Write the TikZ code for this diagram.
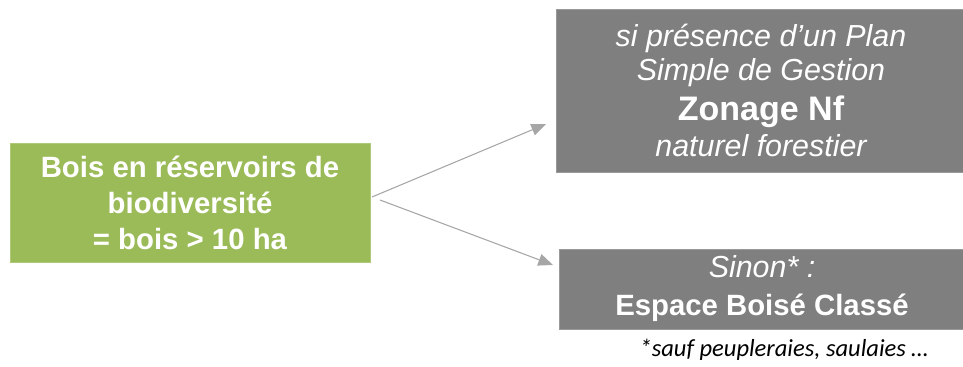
\documentclass[tikz,border=0pt]{standalone}
\usepackage{fontspec}
\setmainfont{Liberation Sans}
\newfontfamily\footfont{Carlito}
\usetikzlibrary{arrows.meta}
\definecolor{boxgreen}{HTML}{9BBB59}
\definecolor{boxgray}{HTML}{7F7F7F}
\definecolor{arrowgray}{HTML}{A6A6A6}
\newcommand{\itl}{\fontsize{22.8}{25.5}\selectfont\itshape}
\newcommand{\bfl}{\fontsize{22}{25.5}\selectfont\bfseries}
\newcommand{\bigbf}{\fontsize{25.5}{25.5}\selectfont\bfseries}
\tikzset{
  greenbox/.style={fill=boxgreen, draw=boxgreen!80!white, text=white, font=\fontsize{22}{27}\selectfont\bfseries, align=center, inner sep=0pt},
  graybox/.style={fill=boxgray, draw=boxgray!80!white, text=white, align=center, inner sep=0pt, font=\fontsize{22.8}{25.5}\selectfont},
  conn/.style={draw=arrowgray, line width=0.8pt, -{Triangle[length=11pt,width=9pt]}},
}
\begin{document}
\begin{tikzpicture}[x=0.75pt,y=-0.75pt]
\useasboundingbox (0,0) rectangle (963,367);
\node[greenbox, minimum width=270pt, minimum height=89pt] (src) at (190,202.5)
  {Bois en réservoirs de\\biodiversité\\= bois > 10 ha};
\node[graybox, minimum width=307pt, minimum height=122pt] (top) at (761,90.5)
  {\itl si présence d’un Plan\\\itl Simple de Gestion\\[4pt]\bigbf Zonage Nf\\[1.5pt]\itl naturel forestier};
\node[graybox, minimum width=304pt, minimum height=60pt] (bot) at (762,289)
  {\itl Sinon* :\\[3pt]\bfl Espace Boisé Classé};
\node[font=\footfont\fontsize{18.4}{22}\selectfont\itshape, inner sep=0pt] (note) at (784,350)
  {*sauf peupleraies, saulaies …};
\coordinate (s1) at (372,197);
\coordinate (s2) at (380,200);
\coordinate (e1) at (546,124);
\coordinate (e2) at (553,265);
\draw[conn] (s1) -- (e1);
\draw[conn] (s2) -- (e2);
\end{tikzpicture}
\end{document}
